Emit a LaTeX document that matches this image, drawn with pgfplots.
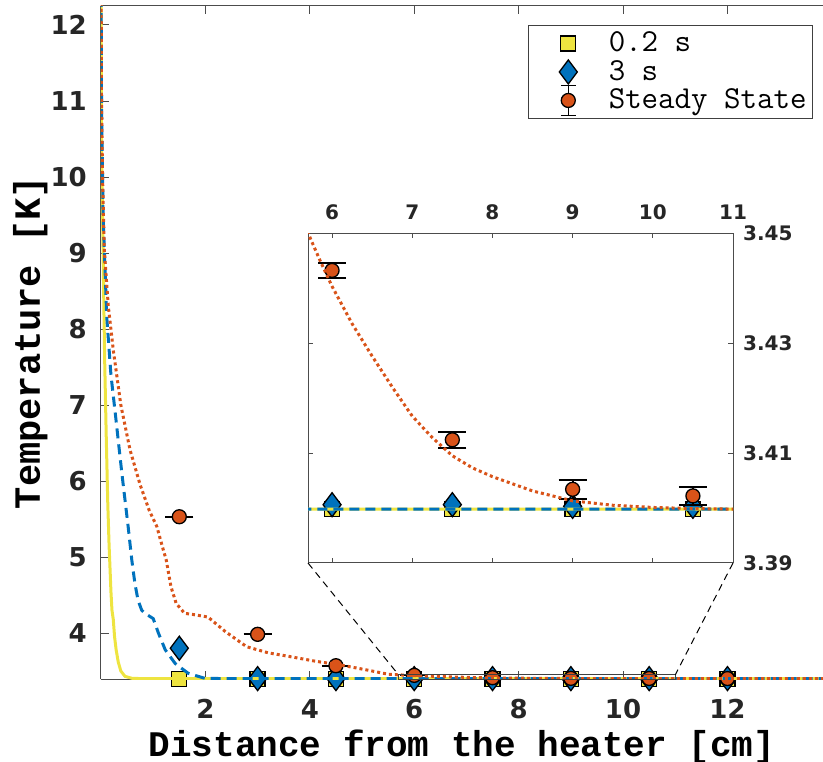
\documentclass[border=0pt]{standalone}
\usepackage{fontspec}
\usepackage{pgfplots}
\usepackage{pgfplotstable}
\pgfplotsset{compat=1.18}
\newfontfamily\monof{Liberation Mono}
\newfontfamily\tickf{DejaVu Sans}
\definecolor{myyellow}{RGB}{238,228,64}
\definecolor{myblue}{RGB}{0,114,189}
\definecolor{myorange}{RGB}{217,83,25}

\pgfplotstableread{
x y
0 13
0.01 10.4
0.04 9.0
0.07 7.6
0.10 6.6
0.13 5.7
0.155 5.15
0.17 4.9
0.19 4.55
0.21 4.3
0.235 4.18
0.26 3.95
0.29 3.78
0.33 3.62
0.38 3.50
0.46 3.43
0.59 3.405
0.8 3.3998
13.83 3.3998
}\yelline

\pgfplotstableread{
x y
0 13
0.01 11
0.04 9.5
0.11 8.16
0.19 7.4
0.28 6.85
0.40 6.1
0.52 5.40
0.59 4.96
0.65 4.65
0.71 4.43
0.78 4.30
0.84 4.26
1.00 4.19
1.10 4.00
1.23 3.78
1.42 3.60
1.67 3.47
1.99 3.404
2.5 3.3998
13.83 3.3998
}\bluline

\pgfplotstableread{
x y
0 13
0.01 11
0.03 10
0.063 9.04
0.14 8.3
0.236 7.72
0.38 7.0
0.556 6.41
0.75 5.95
0.92 5.62
1.07 5.40
1.17 5.15
1.25 4.96
1.34 4.61
1.44 4.39
1.6 4.26
1.8 4.24
2.05 4.21
2.38 4.02
2.79 3.82
3.2 3.74
3.62 3.69
4.1 3.63
4.58 3.58
5.05 3.52
5.5 3.458
5.7 3.450
5.85 3.445
6 3.4403
6.25 3.4335
6.5 3.4276
6.75 3.422
7 3.4167
7.25 3.4128
7.5 3.4095
7.75 3.4073
8 3.4057
8.5 3.4031
9 3.4013
9.5 3.4005
10 3.4001
10.5 3.3999
11 3.3998
13.83 3.3998
}\oraline

\pgfplotstableread{
x y
1.5 3.3998
3 3.3998
4.5 3.3998
6 3.3998
7.5 3.3998
9 3.3998
10.5 3.3998
12 3.3998
}\squares

\pgfplotstableread{
x y
1.5 3.80
3 3.4003
4.5 3.4003
6 3.4006
7.5 3.4006
9 3.4003
10.5 3.4003
12 3.4003
}\diamonds

\pgfplotstableread{
x y e
1.5 5.53 0.0015
3 3.983 0.0015
4.5 3.57 0.0015
6 3.4432 0.0014
7.5 3.4124 0.0015
9 3.4034 0.0017
10.5 3.4022 0.0017
12 3.4012 0.0017
}\steady

\pgfplotsset{
  sqstyle/.style={only marks, mark=square*, mark size=7.5bp, mark options={draw=black, fill=myyellow, line width=1.3bp}},
  distyle/.style={only marks, mark=diamond*, mark size=12bp, mark options={draw=black, fill=myblue, line width=1.3bp}},
  cistyle/.style={only marks, mark=*, mark size=7bp, mark options={draw=black, fill=myorange, line width=1.3bp}},
  erstyle/.style={error bars/y dir=both, error bars/y explicit, error bars/error bar style={black, line width=2bp}, error bars/error mark options={black, line width=2bp, mark size=14bp, rotate=90}},
  yelstyle/.style={myyellow, line width=3bp, no markers},
  blustyle/.style={myblue, line width=3bp, no markers, dash pattern=on 10bp off 6bp},
  orastyle/.style={myorange, line width=3bp, no markers, dash pattern=on 3bp off 3bp},
  markleg/.style={legend image code/.code={\begin{pgfinterruptboundingbox}\draw[##1] plot coordinates {(0bp,0bp)};\end{pgfinterruptboundingbox}\path (-33bp,-8bp) (33bp,8bp);}},
  errleg/.style={legend image code/.code={\begin{pgfinterruptboundingbox}\draw[black, line width=1.5bp] (0bp,-15bp) -- (0bp,15bp) (-7.5bp,-15bp) -- (7.5bp,-15bp) (-7.5bp,15bp) -- (7.5bp,15bp);\draw[##1] plot coordinates {(0bp,0bp)};\end{pgfinterruptboundingbox}\path (-33bp,-8bp) (33bp,8bp);}},
}

\begin{document}
\begin{tikzpicture}
\begin{axis}[
  name=main, at={(0,0)}, anchor=south west,
  scale only axis, width=722bp, height=673.7bp,
  xmin=0, xmax=13.83, ymin=3.39, ymax=12.254,
  axis x line*=box, axis y line*=left,
  axis line style={-, draw=black!70, line width=1bp},
  tick align=inside, major tick length=8bp,
  tick style={black!70, line width=1bp},
  xtick={2,4,...,12}, ytick={4,...,12},
  tick label style={font={\tickf\bfseries\fontsize{26bp}{30bp}\selectfont}, text=black!85, /pgf/number format/assume math mode=true, inner sep=0pt},
  xticklabel style={anchor=north, yshift=-20bp},
  yticklabel style={anchor=east, xshift=-14bp},
  xlabel={Distance from the heater [cm]},
  ylabel={Temperature [K]},
  xlabel style={font={\monof\bfseries\fontsize{36bp}{40bp}\selectfont}, at={(axis description cs:0.5,0)}, anchor=base, yshift=-76.6bp, inner sep=0pt},
  ylabel style={font={\monof\bfseries\fontsize{37bp}{40bp}\selectfont}, at={(axis description cs:0,0.5)}, anchor=base, yshift=61bp, inner sep=0pt},
  legend style={at={(0.9862,0.9714)}, anchor=north east, draw=black!75, line width=1bp, fill=white,
    inner xsep=6bp, inner ysep=9.5bp, column sep=7bp, row sep=11.5bp,
    font={\ttfamily\fontsize{32bp}{35bp}\selectfont},
    nodes={inner sep=0pt, text height=17bp, text depth=0bp}},
  legend cell align=left,
  clip mode=individual,
]
\addlegendimage{sqstyle, markleg}
\addlegendentry{0.2 s}
\addlegendimage{distyle, markleg}
\addlegendentry{3 s}
\addlegendimage{cistyle, errleg}
\addlegendentry{Steady State}

\addplot[sqstyle, forget plot] table[x=x,y=y] {\squares};
\addplot[distyle, forget plot] table[x=x,y=y] {\diamonds};
\addplot[cistyle, erstyle, forget plot] table[x=x,y=y,y error=e] {\steady};
\addplot[yelstyle, forget plot] table[x=x,y=y] {\yelline};
\addplot[blustyle, forget plot] table[x=x,y=y] {\bluline};
\addplot[orastyle, forget plot] table[x=x,y=y] {\oraline};

\draw[black!75, line width=0.8bp] (axis cs:5.7,3.39) rectangle (axis cs:11,3.45);
\coordinate (zL) at (axis cs:5.7,3.45);
\coordinate (zR) at (axis cs:11,3.45);
\end{axis}

\begin{axis}[
  at={(207bp,116.4bp)}, anchor=south west,
  scale only axis, width=425bp, height=330bp,
  xmin=5.7, xmax=11, ymin=3.39, ymax=3.45,
  restrict y to domain=3.3:3.6,
  axis background/.style={fill=white},
  axis line style={draw=black!70, line width=1bp},
  tick align=inside, major tick length=5bp,
  tick style={black!70, line width=1bp},
  xtick={6,7,8,9,10,11}, ytick={3.39,3.41,3.43,3.45},
  scaled y ticks=false,
  xticklabel pos=upper, yticklabel pos=right,
  tick label style={font={\tickf\bfseries\fontsize{20bp}{24bp}\selectfont}, text=black!85, /pgf/number format/assume math mode=true, inner sep=0pt},
  xticklabel style={anchor=south, yshift=13bp},
  yticklabel style={anchor=west, xshift=10bp, /pgf/number format/.cd, fixed, fixed zerofill, precision=2},
  clip mode=individual,
]
\addplot[sqstyle] table[x=x,y=y] {\squares};
\addplot[distyle] table[x=x,y=y] {\diamonds};
\addplot[cistyle, erstyle] table[x=x,y=y,y error=e] {\steady};
\addplot[yelstyle] table[x=x,y=y] {\yelline};
\addplot[blustyle] table[x=x,y=y] {\bluline};
\addplot[orastyle] table[x=x,y=y] {\oraline};
\coordinate (iBL) at (rel axis cs:0,0);
\coordinate (iBR) at (rel axis cs:1,0);
\end{axis}

\draw[black, line width=1bp, dash pattern=on 7bp off 5bp] (iBL) -- (zL);
\draw[black, line width=1bp, dash pattern=on 7bp off 5bp] (iBR) -- (zR);

\pgfresetboundingbox
\path[use as bounding box] (-101bp,-82.6bp) rectangle (722bp,679.4bp);
\end{tikzpicture}
\end{document}
